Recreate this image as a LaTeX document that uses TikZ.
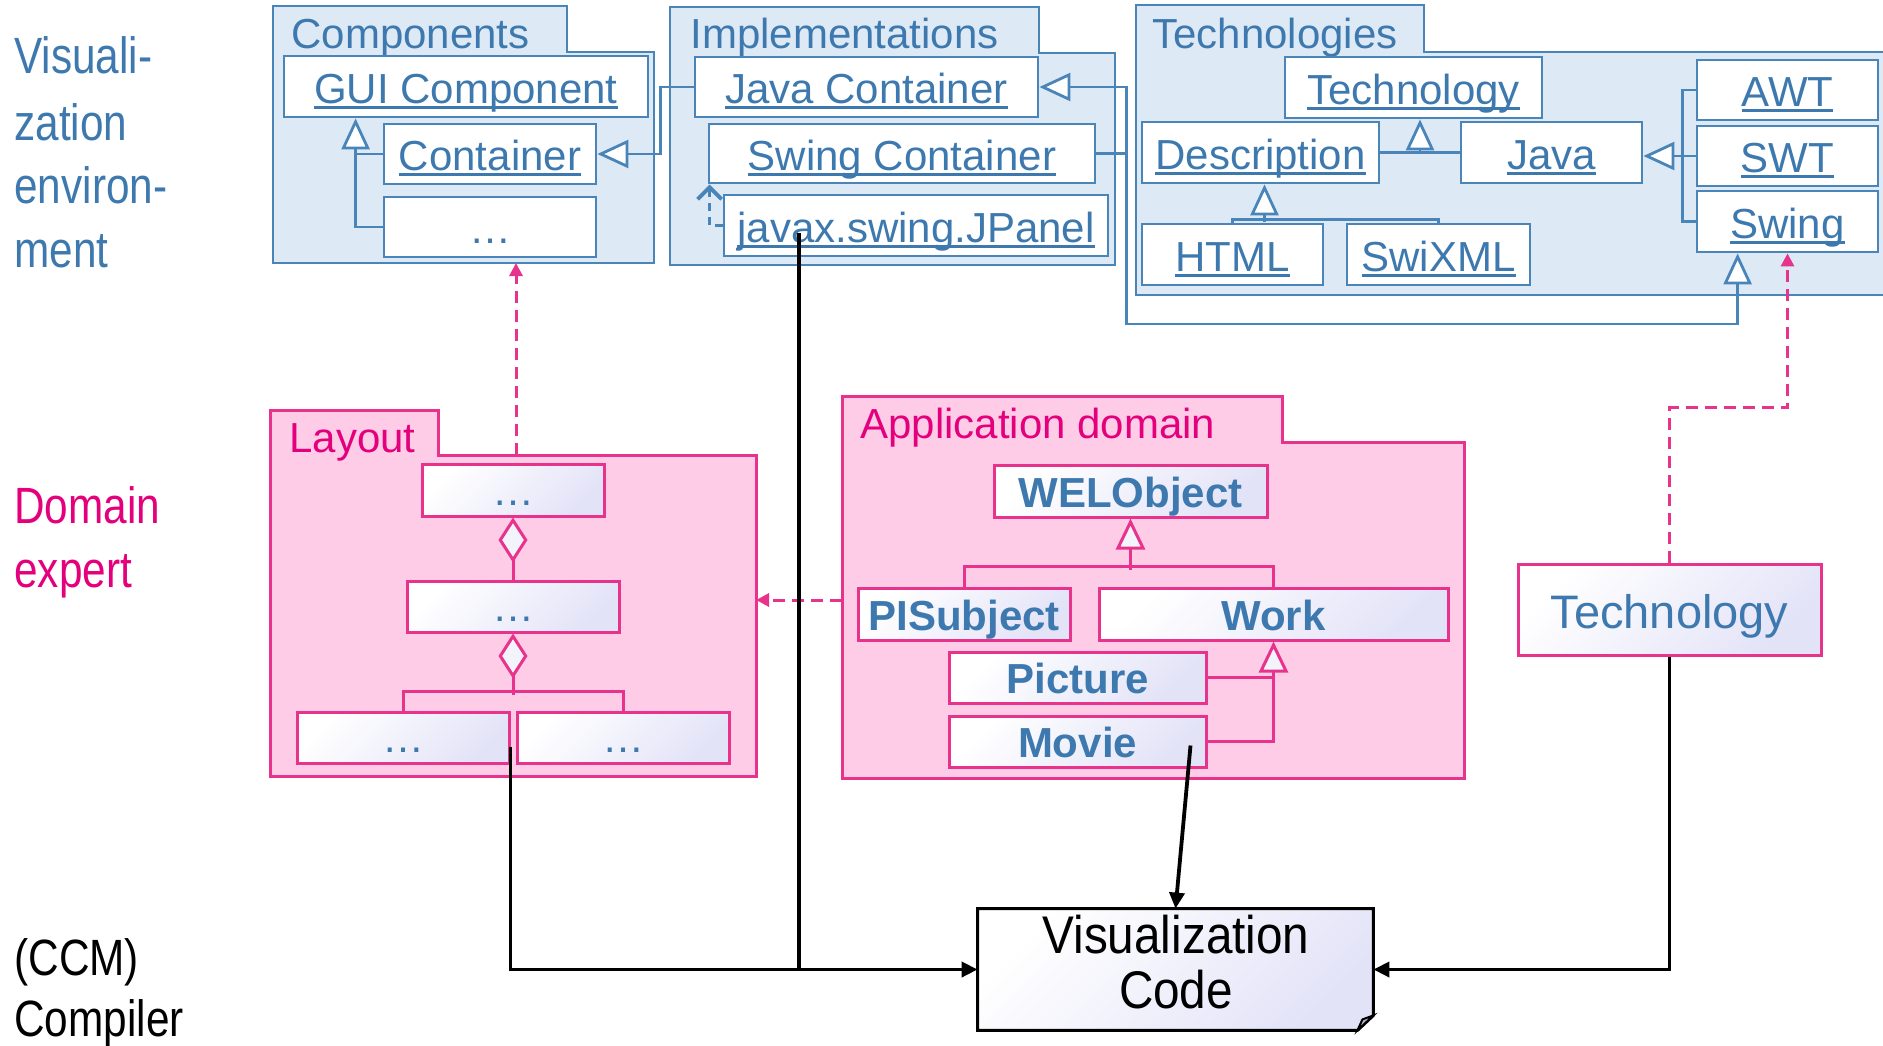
\documentclass[tikz,border=0pt]{standalone}
\usepackage{fontspec}
\setmainfont{Liberation Sans}
\usetikzlibrary{arrows.meta,calc}

\definecolor{vblue}{HTML}{4A85B9}
\definecolor{vbluetext}{HTML}{3D79AE}
\definecolor{vbluefill}{HTML}{DDE9F5}
\definecolor{dpink}{HTML}{E8338C}
\definecolor{dpinkfill}{HTML}{FFCCE7}
\definecolor{dpinktext}{HTML}{E4007C}
\definecolor{lav}{HTML}{E3E3F8}
\definecolor{tipfill}{HTML}{F3F3FC}
\definecolor{foldgrey}{HTML}{B4B4CC}

\newcommand\setfsz[1]{\fontsize{#1}{#1}\selectfont}
% underlined class names: the rule sits just under the baseline
\newsavebox\ulbox
\newcommand\ulx[1]{\sbox\ulbox{#1}\rlap{\rule[-0.14em]{\wd\ulbox}{0.07em}}\usebox\ulbox}
% a box node given by its corners (one unit = 0.5pt): style, name, x1, y1, x2, y2, text
\newcommand\clsbox[7]{%
  \pgfmathsetmacro\bxc{(#3+#5)/2}\pgfmathsetmacro\byc{(#4+#6)/2}%
  \pgfmathsetmacro\bw{(#5-#3)/2}\pgfmathsetmacro\bh{(#6-#4)/2}%
  \node[#1, minimum width=\bw pt, minimum height=\bh pt] (#2) at (\bxc,\byc) {#7};}

\tikzset{
  x=0.5pt, y=-0.5pt,
  bline/.style={draw=vblue, line width=1.4pt, line join=miter},
  pline/.style={draw=dpink, line width=1.5pt, line join=miter},
  blk/.style={draw=black, line width=1.9pt, -{Triangle[length=8pt,width=7.5pt]}},
  gen/.style={bline, -{Triangle[length=15.5pt,width=14pt,fill=white]}},
  pgen/.style={pline, -{Triangle[length=15.5pt,width=14.5pt,fill=tipfill]}},
  agg/.style={pline, {Diamond[length=22.5pt,width=14.5pt,fill=tipfill]}-},
  pdash/.style={draw=dpink, line width=1.5pt, dash pattern=on 6pt off 3.5pt,
                -{Triangle[length=6.5pt,width=6.5pt]}},
  bdep/.style={bline, line width=1.5pt, dash pattern=on 4pt off 3pt,
               -{Straight Barb[length=6pt,width=12pt,line width=2pt]}},
  bpkg/.style={draw=vblue, line width=1.4pt, fill=vbluefill, line join=miter},
  ppkg/.style={draw=dpink, line width=1.5pt, fill=dpinkfill, line join=miter},
  btitle/.style={anchor=base west, inner sep=0pt, text=vbluetext, font=\setfsz{21}},
  ptitle/.style={anchor=base west, inner sep=0pt, text=dpinktext, font=\setfsz{21}},
  cls/.style={draw=vblue, line width=1.4pt, fill=white, inner sep=0pt,
              text=vbluetext, font=\setfsz{21}, text height=16.5pt, text depth=0pt},
  lcls/.style={draw=dpink, line width=1.5pt, top color=white, bottom color=lav,
               shading angle=45, inner sep=0pt, text=vbluetext, font=\setfsz{21},
               text height=15pt, text depth=0pt},
  dcls/.style={lcls, font=\bfseries\setfsz{21}, text height=16pt},
  side/.style={anchor=base west, inner sep=0pt, font=\setfsz{25.5}},
}

\begin{document}
\begin{tikzpicture}
\useasboundingbox (0,0) rectangle (1883,1045);

% ---------- side labels ----------
\node[side, text=vbluetext] (s1) at (14,73)  {\scalebox{0.83}[1]{Visuali-}};
\node[side, text=vbluetext] (s2) at (14,140) {\scalebox{0.83}[1]{zation}};
\node[side, text=vbluetext] (s3) at (14,203) {\scalebox{0.83}[1]{environ-}};
\node[side, text=vbluetext] (s4) at (14,267) {\scalebox{0.83}[1]{ment}};
\node[side, text=dpinktext] (s5) at (14,523) {\scalebox{0.83}[1]{Domain}};
\node[side, text=dpinktext] (s6) at (14,587) {\scalebox{0.83}[1]{expert}};
\node[side, text=black]     (s7) at (14,975) {\scalebox{0.83}[1]{(CCM)}};
\node[side, text=black]     (s8) at (14,1036) {\scalebox{0.83}[1]{Compiler}};

% ---------- package: Components ----------
\path[bpkg] (273,6) -- (567,6) -- (567,52) -- (654,52) -- (654,263) -- (273,263) -- cycle;
\node[btitle] (compname) at (291,48) {Components};
\clsbox{cls}{gui}{284}{56}{648}{117}{\ulx{GUI Component}}
\clsbox{cls}{cont}{384}{124}{596}{184}{\ulx{Container}}
\clsbox{cls}{cdots}{384}{197}{596}{257}{…}
\coordinate (compbot) at (516,263);

% ---------- package: Implementations ----------
\path[bpkg] (670,7) -- (1039,7) -- (1039,53) -- (1115,53) -- (1115,265) -- (670,265) -- cycle;
\node[btitle] (implname) at (690,48) {Implementations};
\clsbox{cls}{jc}{695}{57}{1038}{117}{\ulx{Java Container}}
\clsbox{cls}{sc}{709}{124}{1095}{183}{\ulx{Swing Container}}
\clsbox{cls}{jp}{724}{195}{1108}{256}{\ulx{javax.swing.JPanel}}

% ---------- package: Technologies ----------
\path[bpkg] (1136,5) -- (1424,5) -- (1424,52) -- (1895,52) -- (1895,295) -- (1136,295) -- cycle;
\node[btitle] (techsname) at (1152,48) {Technologies};
\clsbox{cls}{tech}{1285}{57}{1542}{118}{\ulx{Technology}}
\clsbox{cls}{desc}{1142}{122}{1379}{183}{\ulx{Description}}
\clsbox{cls}{java}{1461}{122}{1642}{183}{\ulx{Java}}
\clsbox{cls}{html}{1142}{224}{1323}{285}{\ulx{HTML}}
\clsbox{cls}{swix}{1347}{224}{1530}{285}{\ulx{SwiXML}}
\clsbox{cls}{awt}{1697}{60}{1878}{120}{\ulx{AWT}}
\clsbox{cls}{swt}{1697}{126}{1878}{186}{\ulx{SWT}}
\clsbox{cls}{swing}{1697}{191}{1878}{252}{\ulx{Swing}}

% ---------- package: Layout ----------
\path[ppkg] (270,410) -- (438,410) -- (438,455) -- (756,455) -- (756,776) -- (270,776) -- cycle;
\node[ptitle] (layname) at (289,452) {Layout};
\clsbox{lcls}{l1}{422}{464}{604}{516}{…}
\clsbox{lcls}{l2}{407}{581}{619}{632}{…}
\clsbox{lcls}{l3}{297}{712}{509}{763}{…}
\clsbox{lcls}{l4}{517}{712}{729}{763}{…}
\coordinate (laytop) at (516,455);
\coordinate (layright) at (756,600);

% ---------- package: Application domain ----------
\path[ppkg] (842,396) -- (1282,396) -- (1282,442) -- (1464,442) -- (1464,778) -- (842,778) -- cycle;
\node[ptitle] (appname) at (860,438) {Application domain};
\clsbox{dcls}{wel}{994}{465}{1267}{517}{WELObject}
\clsbox{dcls}{pls}{858}{588}{1070}{640}{PISubject}
\clsbox{dcls}{work}{1099}{588}{1448}{640}{Work}
\clsbox{dcls}{pic}{949}{652}{1206}{703}{Picture}
\clsbox{dcls}{movie}{949}{716}{1206}{767}{Movie}
\coordinate (appleft) at (842,600);

% ---------- Technology (domain side) ----------
\clsbox{lcls, font=\setfsz{23.5}, text height=18.5pt}{techd}{1518}{564}{1821}{655}{Technology}

% ---------- Visualization Code (note with folded corner) ----------
\clsbox{inner sep=0pt}{vc}{978}{909}{1373}{1030}{}
\path[draw=black, line width=1.5pt, line join=miter, top color=white, bottom color=lav, shading angle=45]
  (vc.north west) -- (vc.north east) -- ($(vc.south east)+(0,-15)$)
  -- ($(vc.south east)+(-16,0)$) -- (vc.south west) -- cycle;
\path[draw=black, line width=1pt, line join=miter, fill=foldgrey]
  ($(vc.south east)+(0,-15)$) -- ($(vc.south east)+(-11,-11)$) -- ($(vc.south east)+(-16,0)$) -- cycle;
\node[anchor=base, inner sep=0pt, font=\setfsz{26.5}] (vct1) at (1176,953) {\scalebox{0.9}[1]{Visualization}};
\node[anchor=base, inner sep=0pt, font=\setfsz{26.5}] (vct2) at (1176,1008) {\scalebox{0.9}[1]{Code}};

% ---------- connectors: Components / Implementations ----------
\draw[gen] (cont.west) -| ($(gui.south west)+(73,0)$);
\draw[bline] (cdots.west) -- ++(-27,0) |- (cont.west);
\draw[gen] (jc.west) -- ++(-33,0) |- (cont.east);
\draw[gen] (sc.east) -- ++(30,0) |- (jc.east);
\draw[gen] (sc.east) -- ++(30,0) -- ++(0,170.5) -| ($(swing.south west)+(42,0)$);
\draw[bdep] (jp.west) -| ($(sc.south west)+(2,0)$);

% ---------- connectors: Technologies ----------
\draw[bline] (desc.east) -- (java.west);
\coordinate (dj) at ($(desc.east)!0.5!(java.west)$);
\draw[gen] (dj) -- (dj |- tech.south);
\draw[bline] (html.north) -- ++(0,-3) -| (swix.north);
\draw[gen] ($(desc.south)+(4,38)$) -- ($(desc.south)+(4,0)$);
\draw[gen] (swt.west) -- (swt.west -| java.east);
\draw[bline] (awt.west) -- ++(-13,0) |- (swing.west);

% ---------- connectors: Layout ----------
\draw[agg] (l1.south) -- (l2.north);
\draw[agg] (l2.south) -- ++(0,61);
\draw[pline] (l3.north) -- ++(0,-19) -| (l4.north);

% ---------- connectors: Application domain ----------
\draw[pline] (pls.north) -- ++(0,-20) -| (work.north);
\draw[pgen] ($(wel.south)+(0,51)$) -- (wel.south);
\draw[pgen] (movie.east) -| (work.south);
\draw[pline] (pic.east) -- (pic.east -| work.south);

% ---------- dependencies between layers ----------
\draw[pdash] (laytop) -- (compbot);
\draw[pdash] (appleft) -- (layright);
\draw[pdash] (techd.north) |- ($(techd.north)!0.5!(swing.south)$) -| (swing.south);

% ---------- compiler inputs ----------
\coordinate (l3out) at ($(l3.south east)+(0,-18)$);
\coordinate (jpout) at ($(jp.south west)+(76,-24)$);
\coordinate (mvout) at ($(movie.east)+(-17,4)$);
\draw[blk] (l3out) |- (vc.west);
\draw[line width=1.9pt] (jpout) -- (jpout |- vc.west);
\draw[blk] (mvout) -- (vc.north);
\draw[blk] (techd.south) |- (vc.east);
\end{tikzpicture}
\end{document}
